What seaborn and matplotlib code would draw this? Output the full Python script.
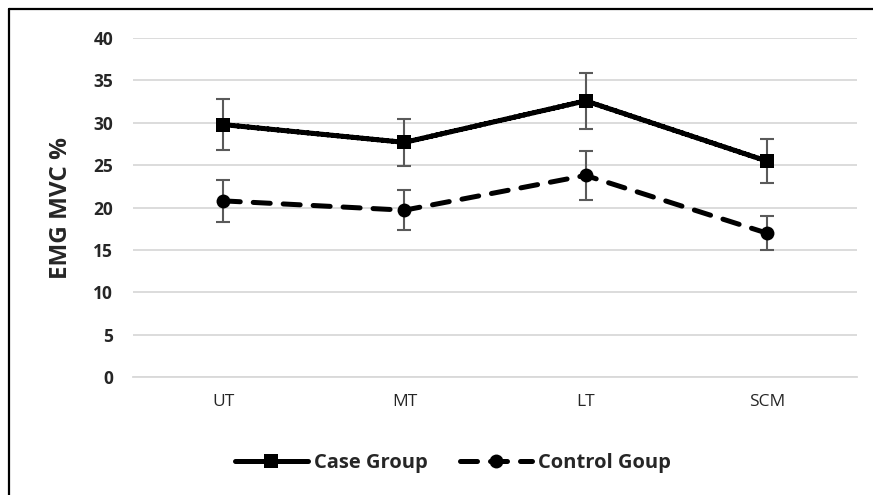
import matplotlib
matplotlib.use("Agg")
import matplotlib.pyplot as plt
import seaborn as sns
import pandas as pd
from matplotlib.lines import Line2D

categories = ["UT", "MT", "LT", "SCM"]
case_values = [29.8, 27.7, 32.6, 25.5]
case_err = [3.0, 2.8, 3.3, 2.6]
control_values = [20.8, 19.7, 23.8, 17.0]
control_err = [2.45, 2.35, 2.85, 2.0]
series_names = ["Case Group", "Control Goup"]
y_ticks = [0, 5, 10, 15, 20, 25, 30, 35, 40]

sns.set_theme(style="white")
plt.rcParams["font.family"] = ["Open Sans", "DejaVu Sans"]

df = pd.DataFrame({
    "muscle": categories * 2,
    "value": case_values + control_values,
    "group": [series_names[0]] * 4 + [series_names[1]] * 4,
})

fig = plt.figure(figsize=(8.73, 4.95), dpi=100)
ax = fig.add_axes([0.152, 0.238, 0.830, 0.685])

ax.errorbar(categories, case_values, yerr=case_err, fmt="none", ecolor="#5a5a5a",
            elinewidth=1.5, capsize=5, capthick=1.5, zorder=1)
ax.errorbar(categories, control_values, yerr=control_err, fmt="none", ecolor="#5a5a5a",
            elinewidth=1.5, capsize=5, capthick=1.5, zorder=1)

sns.lineplot(data=df, x="muscle", y="value", hue="group", style="group",
             palette=["black", "black"], markers=["s", "o"],
             dashes=[(1, 0), (3.4, 2.6)], linewidth=3.6, markersize=10,
             markeredgewidth=0, dash_capstyle="round",
             ax=ax, zorder=3, legend=True)

ax.set_xlim(-0.5, 3.5)
ax.set_ylim(0, 40)
ax.set_yticks(y_ticks)
ax.set_yticklabels([str(t) for t in y_ticks], fontweight="bold", fontsize=12.5)
ax.yaxis.grid(True, color="#d9d9d9", linewidth=1.3)
ax.set_axisbelow(True)
for s in ["top", "right", "left"]:
    ax.spines[s].set_visible(False)
ax.spines["bottom"].set_color("#d9d9d9")
ax.spines["bottom"].set_linewidth(1.3)
ax.tick_params(axis="both", length=0)
ax.tick_params(axis="x", labelsize=12.5, pad=12)
ax.tick_params(axis="y", pad=14)
ax.set_xlabel("")
ax.set_ylabel("EMG MVC %", fontweight="bold", fontsize=17.5)
ax.yaxis.set_label_coords(-0.082, 0.5)

handles, labels = ax.get_legend_handles_labels()
for h in handles:
    h.set_dash_capstyle("round")
leg = ax.legend(handles, labels, loc="center",
                bbox_to_anchor=(453 / 873, 1 - 463 / 495),
                bbox_transform=fig.transFigure,
                ncol=2, frameon=False, handlelength=3.6, columnspacing=1.6,
                handletextpad=0.3, prop={"weight": "bold", "size": 14.5})

# cropped chart border: top and left edges only
fig.add_artist(Line2D([9 / 873, 1.0], [1 - 9 / 495, 1 - 9 / 495],
                      transform=fig.transFigure, color="black", linewidth=1.6))
fig.add_artist(Line2D([9 / 873, 9 / 873], [0.0, 1 - 9 / 495],
                      transform=fig.transFigure, color="black", linewidth=1.6))

fig.savefig("out.png", dpi=100)
